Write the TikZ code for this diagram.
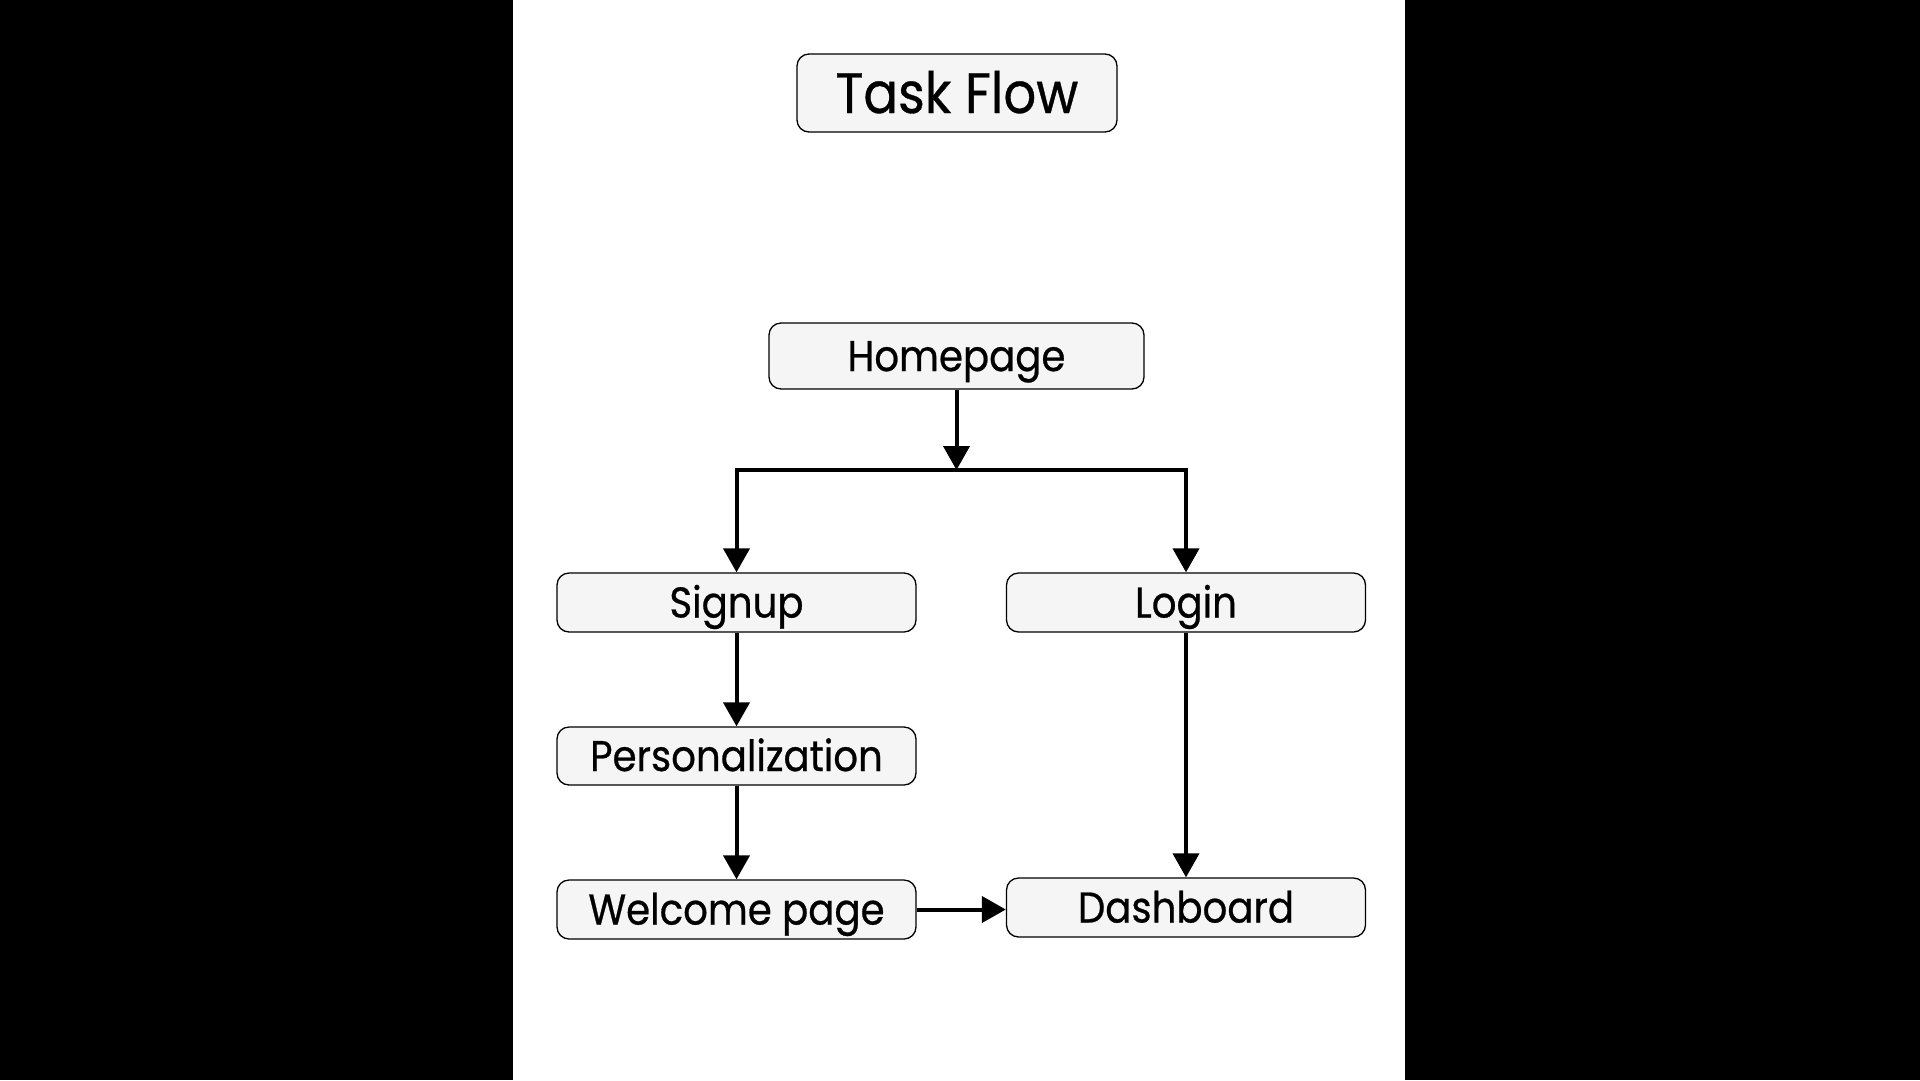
\documentclass[tikz,border=0pt]{standalone}
\usepackage{fontspec}
\setmainfont{Poppins}[FakeStretch=0.9,FakeBold=0.6]
\usetikzlibrary{arrows.meta}
\begin{document}
\begin{tikzpicture}[x=1pt,y=-1pt,
  box/.style={draw=black,line width=1.3pt,fill=boxgrey,rounded corners=12pt,
    minimum width=359pt,minimum height=59pt,inner sep=0pt,
    font=\fontsize{43}{43}\selectfont,text height=30pt,text depth=0pt},
  titlebox/.style={box,minimum width=320pt,minimum height=78pt,
    font=\fontsize{57}{57}\selectfont,text height=40pt},
  conn/.style={line width=4pt,line join=miter},
  arr/.style={conn,-{Triangle[width=26pt,length=24pt]}}]
\definecolor{boxgrey}{HTML}{F5F5F5}
\fill[black] (0,0) rectangle (1920,1080);
\fill[white] (513,0) rectangle (1405,1080);
\useasboundingbox (0,0) rectangle (1920,1080);
\node[titlebox] (title) at (957,93) {Task Flow};
\node[box,minimum width=375pt,minimum height=66pt] (home) at (956.5,356) {Homepage};
\node[box] (signup) at (736.5,602.5) {Signup};
\node[box] (login) at (1186,602.5) {Login};
\node[box,minimum height=58pt] (pers) at (736.5,756) {Personalization};
\node[box] (welcome) at (736.5,909.5) {Welcome page};
\node[box] (dash) at (1186,907.5) {Dashboard};
\coordinate (junc) at (956.5,470);
\draw[arr] (home.south) -- (junc);
\draw[arr] (junc) -| (signup.north);
\draw[arr] (junc) -| (login.north);
\draw[arr] (signup.south) -- (pers.north);
\draw[arr] (pers.south) -- (welcome.north);
\draw[arr] (login.south) -- (dash.north);
\draw[arr] (welcome.east) -- (welcome.east -| dash.west);
\end{tikzpicture}
\end{document}
